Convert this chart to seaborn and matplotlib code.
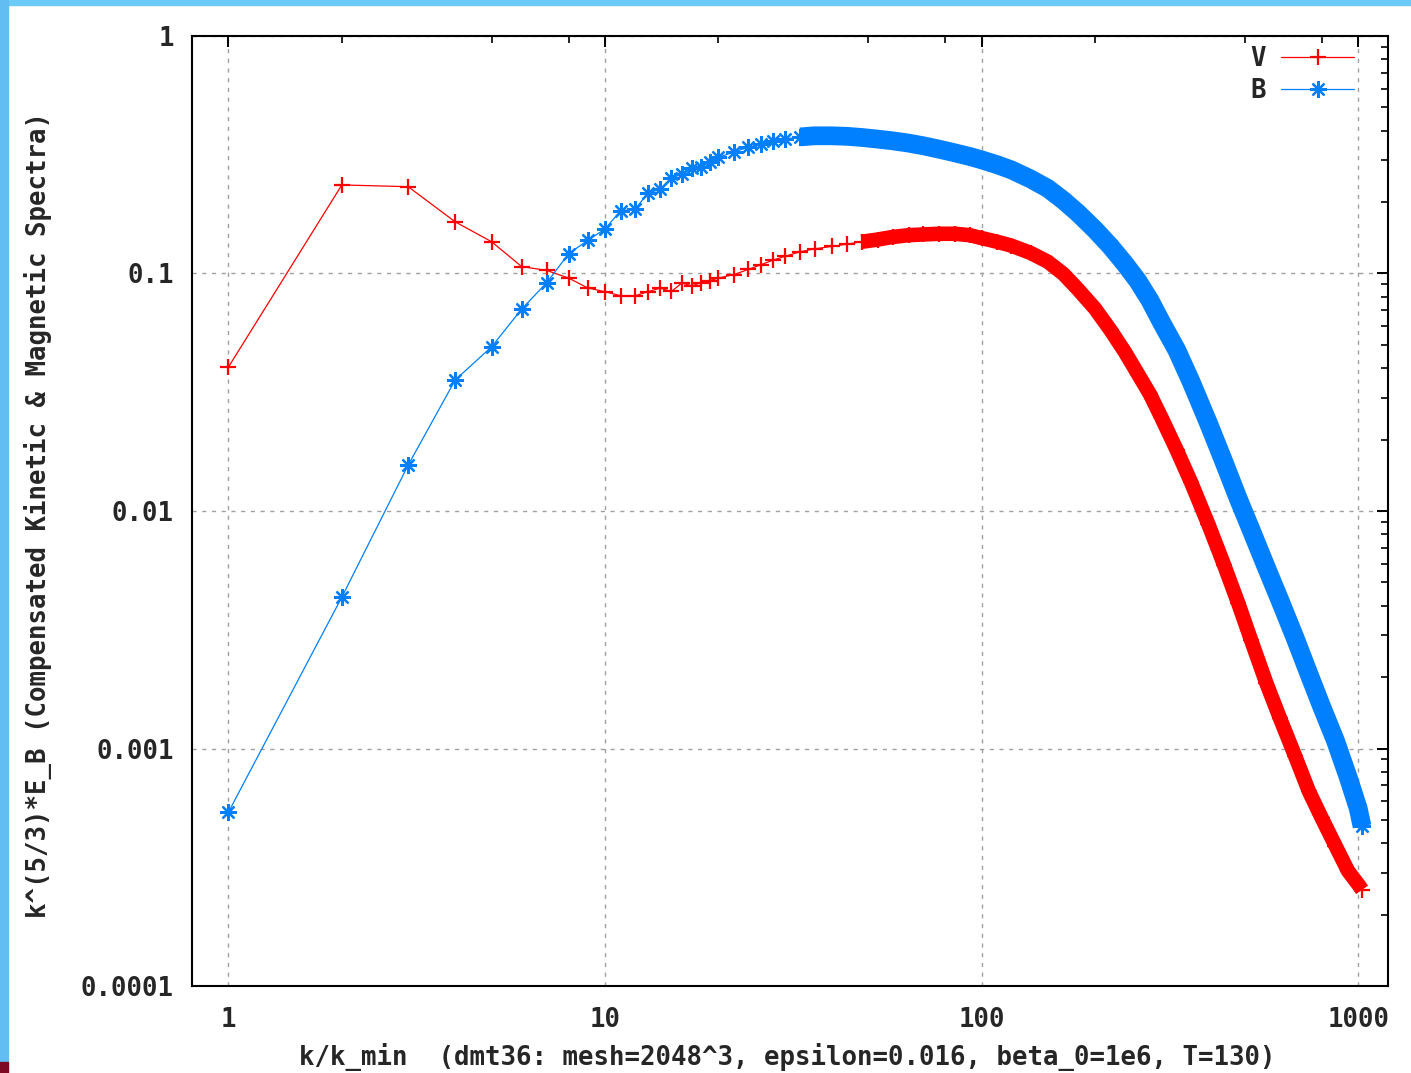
import numpy as np
import pandas as pd
import matplotlib
matplotlib.use("Agg")
import matplotlib.pyplot as plt
from matplotlib.patches import Rectangle
from matplotlib.ticker import FixedLocator, LogLocator, NullFormatter
import seaborn as sns

# wavenumbers k/k_min
k = [1, 2, 3, 4, 5, 6, 7, 8, 9, 10, 11, 12, 13, 14, 15, 16, 17, 18, 19, 20,
     22, 24, 26, 28, 30, 33, 36, 40, 44, 48, 53, 58, 64, 70, 77, 85, 93,
     100, 110, 120, 135, 150, 165, 180, 200, 220, 240, 260, 280, 300, 330, 360,
     400, 440, 480, 520, 570, 620, 680, 740, 800, 870, 940, 1000, 1024]

# compensated kinetic spectrum (V)
spec_v = [0.0404, 0.236, 0.232, 0.165, 0.136, 0.107, 0.103, 0.0957, 0.0869, 0.0838,
          0.0806, 0.0806, 0.0838, 0.0868, 0.0840, 0.0912, 0.0887, 0.0915, 0.0934, 0.0957,
          0.099, 0.104, 0.109, 0.114, 0.118, 0.1235, 0.127, 0.130, 0.133, 0.136, 0.139,
          0.1425, 0.145, 0.146, 0.147, 0.147, 0.145,
          0.141, 0.136, 0.131, 0.122, 0.112, 0.0995, 0.0860, 0.0712, 0.0577, 0.0468,
          0.0378, 0.031, 0.0248, 0.018, 0.0132,
          0.0088, 0.00595, 0.0041, 0.00285, 0.00189, 0.00134, 0.00093, 0.00066,
          0.00051, 0.00039, 0.000305, 0.000268, 0.000254]

# compensated magnetic spectrum (B)
spec_b = [0.00054, 0.00434, 0.0156, 0.0356, 0.0492, 0.0707, 0.0915, 0.121, 0.138, 0.154,
          0.184, 0.186, 0.218, 0.226, 0.252, 0.262, 0.277, 0.282, 0.296, 0.308,
          0.325, 0.340, 0.350, 0.360, 0.368, 0.376, 0.380, 0.380, 0.378, 0.374, 0.368,
          0.362, 0.354, 0.345, 0.334, 0.322, 0.311,
          0.301, 0.287, 0.273, 0.250, 0.228, 0.203, 0.180, 0.153, 0.130, 0.110,
          0.093, 0.077, 0.0625, 0.0475, 0.035,
          0.0235, 0.0161, 0.0113, 0.0083, 0.0058, 0.0042, 0.00292, 0.00206,
          0.0015, 0.00108, 0.00076, 0.00056, 0.00047]

xtick_vals = [1, 10, 100, 1000]
xtick_labels = ["1", "10", "100", "1000"]
ytick_vals = [1e-4, 1e-3, 1e-2, 1e-1, 1]
ytick_labels = ["0.0001", "0.001", "0.01", "0.1", "1"]

RED = "#ff0000"
BLUE = "#0080ff"

sns.set_style("white")
plt.rcParams["font.family"] = ["DejaVu Sans Mono"]
plt.rcParams["font.weight"] = "bold"
FS = 18.5

df = pd.DataFrame({"k": k, "V": spec_v, "B": spec_b})

fig = plt.figure(figsize=(14.11, 10.73), dpi=100)
ax = fig.add_axes([0.13607, 0.08108, 0.84763, 0.88537])

# thick bands where the markers overlap into a solid ribbon
dv = df[df.k >= 48]
db = df[df.k >= 33]
ax.plot(dv.k, dv.V, color=RED, lw=10.5, solid_capstyle="butt",
        solid_joinstyle="round", zorder=2)
ax.plot(db.k, db.B, color=BLUE, lw=13.5, solid_capstyle="butt",
        solid_joinstyle="round", zorder=2)

sns.lineplot(data=df, x="k", y="V", ax=ax, color=RED, lw=0.9, marker="+",
             markersize=11, markeredgewidth=1.6, markeredgecolor=RED,
             markerfacecolor=RED, label="V", sort=False, estimator=None, zorder=3)
sns.lineplot(data=df, x="k", y="B", ax=ax, color=BLUE, lw=0.9, marker=(8, 2, 0),
             markersize=12, markeredgewidth=1.6, markeredgecolor=BLUE,
             markerfacecolor=BLUE, label="B", sort=False, estimator=None, zorder=3)

ax.set_xscale("log")
ax.set_yscale("log")
ax.set_xlim(0.8, 1200)
ax.set_ylim(1e-4, 1)

ax.xaxis.set_major_locator(FixedLocator(xtick_vals))
ax.set_xticklabels(xtick_labels)
ax.xaxis.set_minor_locator(LogLocator(base=10, subs=[2, 5, 8], numticks=20))
ax.xaxis.set_minor_formatter(NullFormatter())
ax.yaxis.set_major_locator(FixedLocator(ytick_vals))
ax.set_yticklabels(ytick_labels)
ax.yaxis.set_minor_locator(LogLocator(base=10, subs=np.arange(2, 10), numticks=20))
ax.yaxis.set_minor_formatter(NullFormatter())

ax.tick_params(which="both", direction="in", top=True, right=True, color="black")
ax.tick_params(which="major", length=8, width=1.4)
ax.tick_params(which="minor", length=5, width=1.2)
ax.tick_params(axis="x", which="major", pad=15, labelsize=FS)
ax.tick_params(axis="y", which="major", pad=13, labelsize=FS)

ax.grid(True, which="major", color="#a0a0a0", linestyle=(0, (3, 4)), lw=1.0)
for s in ax.spines.values():
    s.set_color("black")
    s.set_linewidth(1.5)

ax.set_xlabel("k/k_min  (dmt36: mesh=2048^3, epsilon=0.016, beta_0=1e6, T=130)",
              fontsize=FS, fontweight="bold", va="center")
ax.xaxis.set_label_coords(0.4975, -0.0747)
ax.set_ylabel("k^(5/3)*E_B (Compensated Kinetic & Magnetic Spectra)",
              fontsize=FS, fontweight="bold", va="center")
ax.yaxis.set_label_coords(-0.1288, 0.4963)

leg = ax.legend(loc="upper right", bbox_to_anchor=(0.987, 1.008), frameon=False,
                markerfirst=False, fontsize=FS, handlelength=2.85,
                handletextpad=0.6, labelspacing=0.2, borderpad=0.2)
for t in leg.get_texts():
    t.set_fontweight("bold")

# screenshot frame strips
fig.add_artist(Rectangle((0, 1 - 5 / 1073), 1, 5 / 1073, transform=fig.transFigure,
                         color="#6ccaf7", zorder=10))
fig.add_artist(Rectangle((0, 11 / 1073), 8 / 1411, 1, transform=fig.transFigure,
                         color="#62bdf2", zorder=10))
fig.add_artist(Rectangle((0, 0), 8 / 1411, 11 / 1073, transform=fig.transFigure,
                         color="#7b0a22", zorder=10))

fig.savefig("out.png", dpi=100)
